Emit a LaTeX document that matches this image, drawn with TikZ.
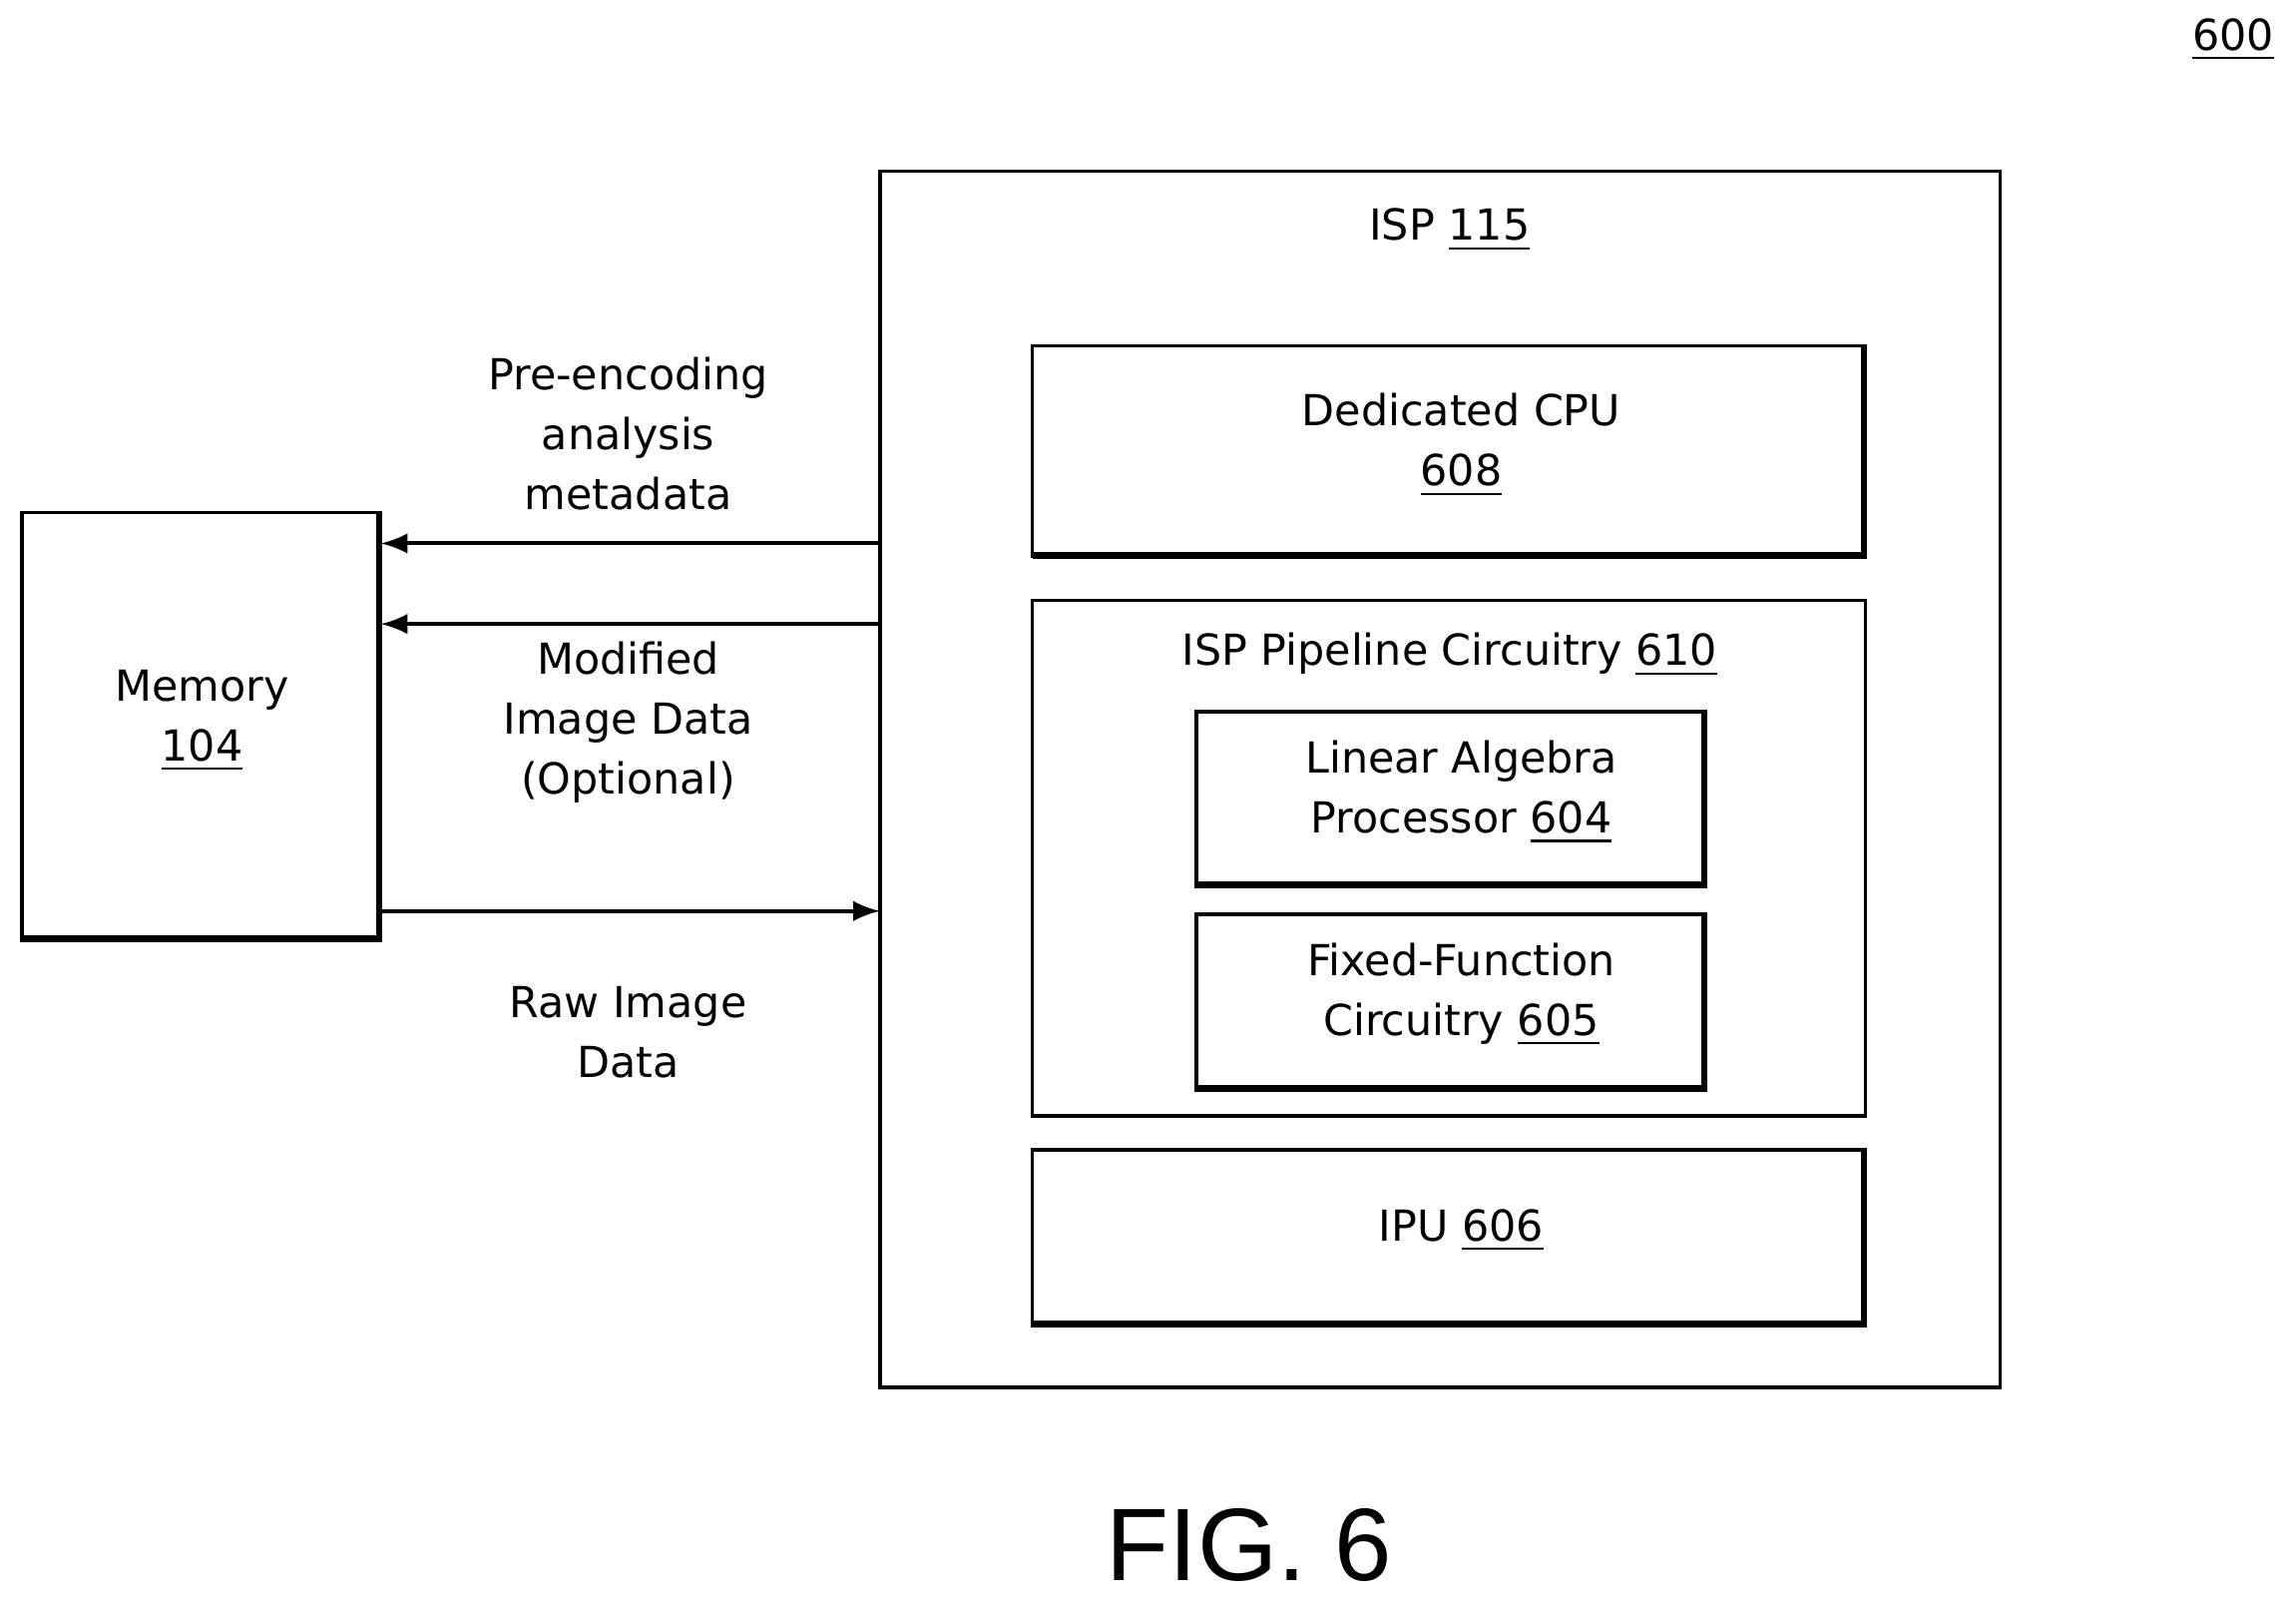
\documentclass[tikz,border=0pt]{standalone}
\usepackage{fontspec}
\setmainfont{DejaVu Sans}
\newfontfamily\figfont{Liberation Sans}
\usetikzlibrary{positioning}
\newcommand{\refnum}[1]{\underline{#1}}
\begin{document}
\begin{tikzpicture}[x=0.01cm,y=-0.01cm,
  font=\fontsize{8.3}{11.6}\selectfont,
  box/.style={draw,line width=0.7pt,rectangle,inner sep=0pt},
  lbl/.style={align=center,inner sep=0pt},
  sh/.style={line width=1.3pt},
  arr/.style={->,>=latex,line width=0.8pt}]
\useasboundingbox (0,0) rectangle (1568,1094);
% Beschriftung
\node[lbl] (fignum) at (1525,27) {\refnum{600}};
% ISP
\draw[box] (601,117) rectangle (1366,947);
\node[lbl] (isp) at (990,157) {ISP \refnum{115}};
% CPU
\draw[box] (705,236) rectangle (1274,380);
\draw[sh] (1273,236) -- (1273,379) -- (705,379);
\node[lbl] (cpu) at (998,304) {Dedicated CPU\\\refnum{608}};
% Pipeline
\draw[box] (705,410) rectangle (1274,762);
\node[lbl] (pipe) at (990,447) {ISP Pipeline Circuitry \refnum{610}};
\draw[box] (817,486) rectangle (1165,605);
\draw[sh] (1164,486) -- (1164,604) -- (817,604);
\node[lbl] (lap) at (998,541) {Linear Algebra\\Processor \refnum{604}};
\draw[box] (817,624) rectangle (1165,744);
\draw[sh] (1164,624) -- (1164,743) -- (817,743);
\node[lbl] (ffc) at (998,679) {Fixed-Function\\Circuitry \refnum{605}};
% IPU
\draw[box] (705,785) rectangle (1274,905);
\draw[sh] (1273,785) -- (1273,904) -- (705,904);
\node[lbl] (ipu) at (998,840) {IPU \refnum{606}};
% Memory
\draw[box] (15,350) rectangle (260,642);
\draw[sh] (259,350) -- (259,641) -- (15,641);
\node[lbl] (mem) at (138,492) {Memory\\\refnum{104}};
% Pfeile
\coordinate (m1) at (260,371); \coordinate (i1) at (601,371);
\coordinate (m2) at (260,426); \coordinate (i2) at (601,426);
\coordinate (m3) at (260,622); \coordinate (i3) at (601,622);
\draw[arr] (i1) -- (m1);
\draw[arr] (i2) -- (m2);
\draw[arr] (m3) -- (i3);
\node[lbl] (pre) at (429,296) {Pre-encoding\\analysis\\metadata};
\node[lbl] (mod) at (429,493) {Modified\\Image Data\\(Optional)};
\node[lbl] (raw) at (429,705) {Raw Image\\Data};
\node[lbl,font=\figfont\fontsize{20}{24}\selectfont] (fig) at (853,1055) {FIG. 6};
\end{tikzpicture}
\end{document}
